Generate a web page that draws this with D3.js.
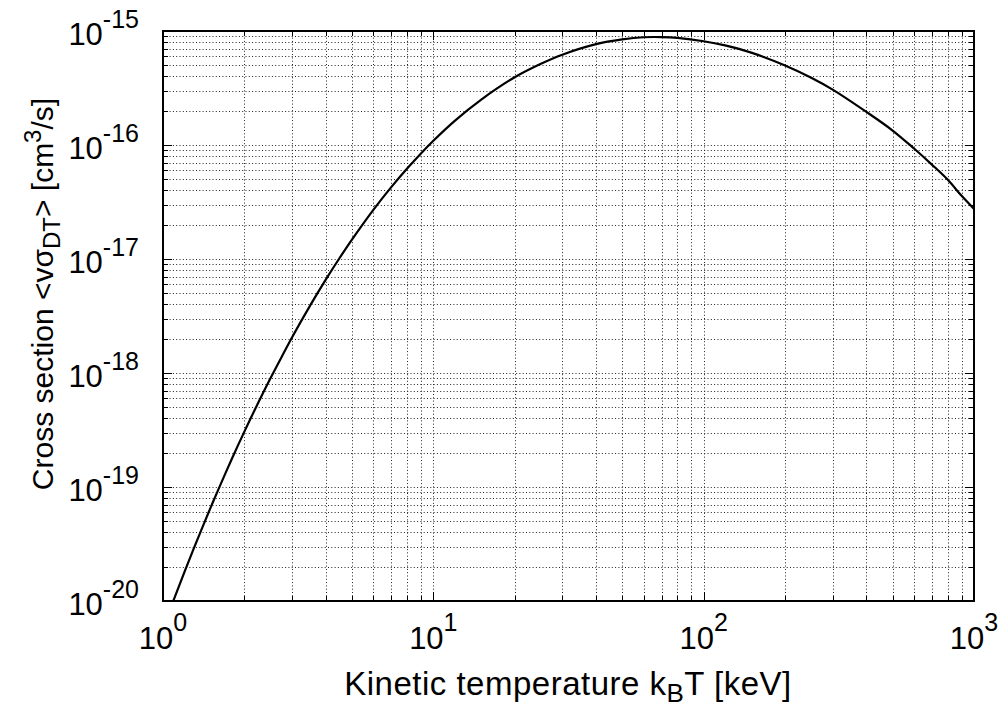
<!DOCTYPE html>
<html>
<head>
<meta charset="utf-8">
<script src="https://cdn.jsdelivr.net/npm/d3@7"></script>
<style>
  html, body { margin: 0; padding: 0; background: #fff; }
  svg { display: block; font-family: "Liberation Sans", Arial, Helvetica, sans-serif; }
</style>
</head>
<body>
<svg id="chart" width="1006" height="708"></svg>
<script>
// D-T fusion reactivity <v sigma> versus plasma temperature
const temperatures = [1, 1.1, 1.2, 1.3, 1.4, 1.5, 1.6, 1.8, 2, 2.25, 2.5, 2.75, 3, 3.5, 4, 4.5, 5,
  6, 7, 8, 9, 10, 12, 15, 20, 25, 30, 40, 50, 60, 70, 80, 100, 120, 150, 200, 250, 300,
  400, 500, 600, 700, 800, 900, 1000];
const reactivity = [5.75e-21, 1.05e-20, 1.79e-20, 2.89e-20, 4.45e-20, 6.60e-20, 9.43e-20, 1.78e-19,
  3.06e-19, 5.48e-19, 9.03e-19, 1.39e-18, 2.05e-18, 3.90e-18, 6.59e-18, 1.02e-17, 1.48e-17,
  2.70e-17, 4.29e-17, 6.22e-17, 8.44e-17, 1.09e-16, 1.63e-16, 2.49e-16, 3.93e-16, 5.16e-16,
  6.20e-16, 7.67e-16, 8.43e-16, 8.81e-16, 8.84e-16, 8.69e-16, 8.13e-16, 7.47e-16, 6.46e-16,
  4.98e-16, 3.89e-16, 3.06e-16, 1.95e-16, 1.34e-16, 9.31e-17, 6.70e-17, 4.95e-17, 3.58e-17,
  2.75e-17];

const xTickExponents = [0, 1, 2, 3];
const yTickExponents = [-20, -19, -18, -17, -16, -15];

const svg = d3.select("#chart");
const plot = { left: 163, right: 974, top: 31, bottom: 601 };

const x = d3.scaleLog().domain([1, 1000]).range([plot.left, plot.right]);
const y = d3.scaleLog().domain([1e-20, 1e-15]).range([plot.bottom, plot.top]);

// every decade value plus its 2..9 subdivisions
function logTicks(lo, hi) {
  const major = [], minor = [];
  for (let e = lo; e <= hi; e++) {
    major.push(Math.pow(10, e));
    if (e < hi) for (let m = 2; m <= 9; m++) minor.push(m * Math.pow(10, e));
  }
  return { major, minor };
}
const xt = logTicks(0, 3);
const yt = logTicks(-20, -15);

// dotted grid on major and minor ticks
const grid = svg.append("g")
  .attr("stroke", "#222")
  .attr("stroke-width", 1)
  .attr("stroke-dasharray", "1,2.3")
  .attr("fill", "none");
xt.major.concat(xt.minor).filter(v => v > 1 && v < 1000).forEach(v => {
  const px = Math.round(x(v)) + 0.5;
  grid.append("line").attr("x1", px).attr("x2", px).attr("y1", plot.top).attr("y2", plot.bottom);
});
yt.major.concat(yt.minor).filter(v => v > 1e-20 * 1.01 && v < 1e-15 * 0.99).forEach(v => {
  const py = Math.round(y(v)) + 0.5;
  grid.append("line").attr("x1", plot.left).attr("x2", plot.right).attr("y1", py).attr("y2", py);
});

// inward tick marks, mirrored on all four sides
const ticks = svg.append("g").attr("stroke", "#000").attr("stroke-width", 1);
function xTick(v, len) {
  const px = Math.round(x(v)) + 0.5;
  ticks.append("line").attr("x1", px).attr("x2", px).attr("y1", plot.bottom).attr("y2", plot.bottom - len);
  ticks.append("line").attr("x1", px).attr("x2", px).attr("y1", plot.top).attr("y2", plot.top + len);
}
function yTick(v, len) {
  const py = Math.round(y(v)) + 0.5;
  ticks.append("line").attr("x1", plot.left).attr("x2", plot.left + len).attr("y1", py).attr("y2", py);
  ticks.append("line").attr("x1", plot.right).attr("x2", plot.right - len).attr("y1", py).attr("y2", py);
}
xt.major.forEach(v => xTick(v, 9));
xt.minor.forEach(v => xTick(v, 5));
yt.major.forEach(v => yTick(v, 9));
yt.minor.forEach(v => yTick(v, 5));

// reactivity curve, clipped to the plotting area
svg.append("clipPath").attr("id", "plotClip")
  .append("rect")
  .attr("x", plot.left).attr("y", plot.top)
  .attr("width", plot.right - plot.left).attr("height", plot.bottom - plot.top);

const line = d3.line()
  .x((d, i) => x(temperatures[i]))
  .y((d, i) => y(reactivity[i]))
  .curve(d3.curveCatmullRom.alpha(0.5));

svg.append("path")
  .attr("clip-path", "url(#plotClip)")
  .attr("d", line(reactivity))
  .attr("fill", "none")
  .attr("stroke", "#000")
  .attr("stroke-width", 2.2)
  .attr("stroke-linejoin", "round");

// frame
svg.append("rect")
  .attr("x", plot.left).attr("y", plot.top)
  .attr("width", plot.right - plot.left).attr("height", plot.bottom - plot.top)
  .attr("fill", "none").attr("stroke", "#000").attr("stroke-width", 2);

// tick labels as powers of ten
const tickFont = 31, expFont = 25;
yTickExponents.forEach(e => {
  const t = svg.append("text")
    .attr("x", 139).attr("y", y(Math.pow(10, e)) + 14)
    .attr("text-anchor", "end")
    .attr("font-size", tickFont)
    .text("10");
  t.append("tspan").attr("dy", -17).attr("font-size", expFont).text(String(e));
});
xTickExponents.forEach(e => {
  const t = svg.append("text")
    .attr("x", x(Math.pow(10, e))).attr("y", 649)
    .attr("text-anchor", "middle")
    .attr("font-size", tickFont)
    .text("10");
  t.append("tspan").attr("dy", -18).attr("font-size", expFont).text(String(e));
});

// axis titles
const xTitle = svg.append("text")
  .attr("x", 568).attr("y", 695)
  .attr("text-anchor", "middle")
  .attr("font-size", 33)
  .attr("letter-spacing", 0.5)
  .text("Kinetic temperature k");
xTitle.append("tspan").attr("dy", 7).attr("font-size", 26).text("B");
xTitle.append("tspan").attr("dy", -7).text("T [keV]");

const yTitle = svg.append("text")
  .attr("transform", "translate(53,294) rotate(-90)")
  .attr("text-anchor", "middle")
  .attr("font-size", 30)
  .text("Cross section <vσ");
yTitle.append("tspan").attr("dy", 7).attr("font-size", 24).text("DT");
yTitle.append("tspan").attr("dy", -7).text("> [cm");
yTitle.append("tspan").attr("dy", -12).attr("font-size", 24).text("3");
yTitle.append("tspan").attr("dy", 12).text("/s]");
</script>
</body>
</html>
